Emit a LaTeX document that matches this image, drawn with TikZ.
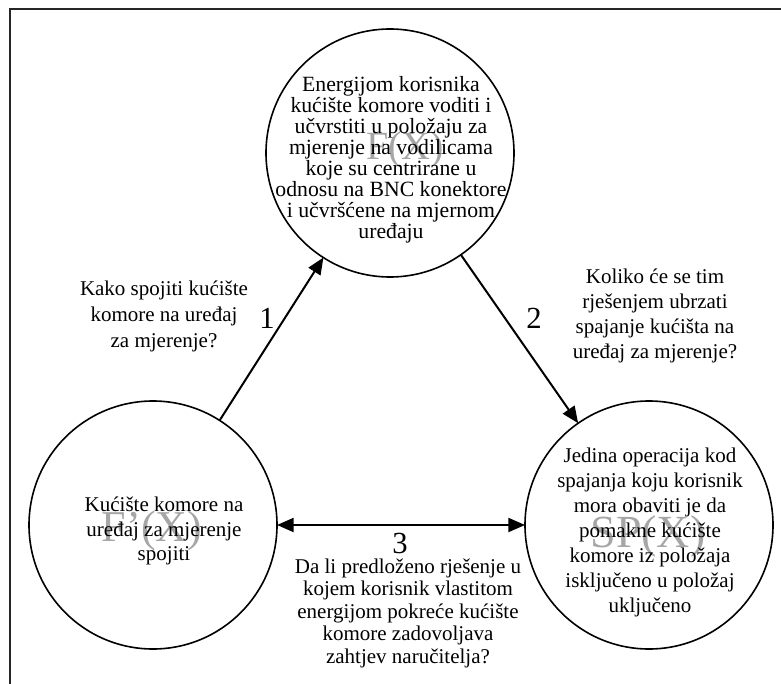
\documentclass[tikz,border=0pt]{standalone}
\usepackage{fontspec}
\setmainfont{Liberation Serif}
\usetikzlibrary{arrows.meta}
\begin{document}
\begin{tikzpicture}[x=0.75pt,y=-0.75pt,
  bubble/.style={circle,draw,line width=1.2pt,minimum size=186pt,inner sep=0pt,outer sep=0pt},
  ctext/.style={align=center,inner sep=0pt,font=\fontsize{15.75}{#1}\selectfont},
  ttext/.style={align=center,inner sep=0pt,font=\fontsize{16.3}{15.75}\selectfont},
  wmark/.style={text=black!35,inner sep=0pt,font=\fontsize{#1}{#1}\selectfont},
  numlab/.style={inner sep=0pt,font=\fontsize{23}{23}\selectfont},
  conn/.style={line width=1.5pt,-{Triangle[length=12.5pt,width=10.5pt]}},
  conn2/.style={line width=1.5pt,{Triangle[length=12.5pt,width=10.5pt]}-{Triangle[length=12.5pt,width=10.5pt]}}
]
\useasboundingbox (0,0) rectangle (781,684);
\draw[line width=1.5pt,black!85] (9.5,684) -- (9.5,9.5) -- (781,9.5);

% watermarks
\node[wmark=30] (wT) at (405,150) {F(X)};
\node[wmark=33] (wL) at (152,531) {F'(X)};
\node[wmark=34.5] (wR) at (648,536) {SP(X)};

% circles
\node[bubble] (T) at (390,153) {};
\node[bubble] (L) at (153,525) {};
\node[bubble] (R) at (649,525) {};

% texts in circles
\node[ttext] (tT) at (391,159.5) {Energijom korisnika\\kućište komore voditi i\\učvrstiti u položaju za\\mjerenje na vodilicama\\koje su centrirane u\\odnosu na BNC konektore\\i učvršćene na mjernom\\uređaju};
\node[ctext=18.4] (tL) at (164,531) {Kućište komore na\\uređaj za mjerenje\\spojiti};
\node[ctext=18.75] (tR) at (650,532) {Jedina operacija kod\\spajanja koju korisnik\\mora obaviti je da\\pomakne kućište\\komore iz položaja\\isključeno u položaj\\uključeno};

% questions
\node[ctext=19.5] (q1) at (164,316) {Kako spojiti kućište\\komore na uređaj\\za mjerenje?};
\node[ctext=18.75] (q2) at (655,315.5) {Koliko će se tim\\rješenjem ubrzati\\spajanje kućišta na\\uređaj za mjerenje?};
\node[ctext=16.9] (q3) at (408,613) {Da li predloženo rješenje u\\kojem korisnik vlastitom\\energijom pokreće kućište\\komore zadovoljava\\zahtjev naručitelja?};

% numbers
\node[numlab] (n1) at (267,318) {1};
\node[numlab] (n2) at (534,318) {2};
\node[numlab] (n3) at (400,543) {3};

% connectors
\draw[conn] (L) -- (T);
\draw[conn] (T) -- (R);
\draw[conn2] (L) -- (R);
\end{tikzpicture}
\end{document}
